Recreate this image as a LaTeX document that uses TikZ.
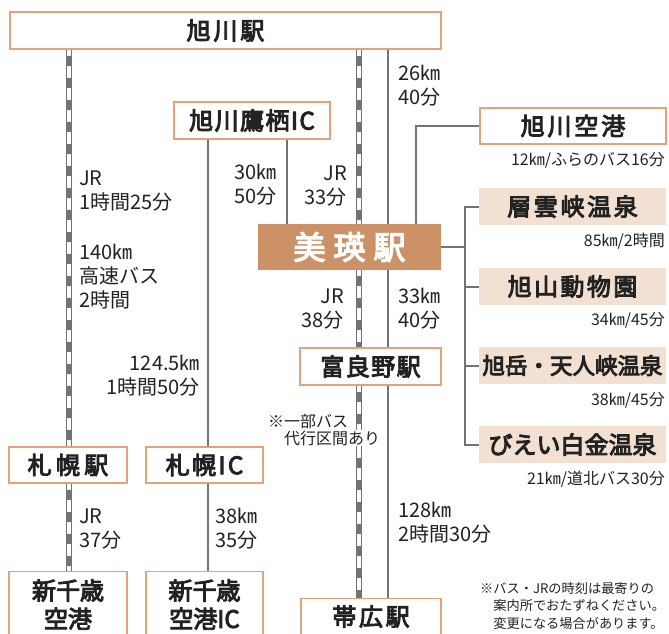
\documentclass[tikz,border=0pt]{standalone}
\usepackage{fontspec}
\setmainfont{Noto Sans CJK JP}
\newfontfamily\titlefont{Noto Sans CJK JP}[FakeBold=4]
\definecolor{boxborder}{HTML}{E2A37A}
\definecolor{pale}{HTML}{F2E0D2}
\definecolor{bieifill}{HTML}{CD9167}
\definecolor{linegray}{HTML}{737373}
\definecolor{ink}{HTML}{222222}
\newcommand\myL[1]{\begin{tabular}[t]{@{}l@{}}#1\end{tabular}}
\newcommand\myR[1]{\begin{tabular}[t]{@{}r@{}}#1\end{tabular}}
\newcommand\myC[1]{\begin{tabular}[t]{@{}c@{}}#1\end{tabular}}
\newcommand\spaced[2]{{\addfontfeature{LetterSpace=#1}#2}}
\begin{document}
\begin{tikzpicture}[x=1pt,y=-1pt,
  box/.style={draw=boxborder, line width=1.2pt, fill=white, inner sep=0pt, text=ink, font=\fontsize{24}{27}\selectfont\titlefont},
  palebox/.style={fill=pale, inner sep=0pt, text=ink, minimum width=187pt, minimum height=37pt, font=\fontsize{24}{27}\selectfont\titlefont},
  lbl/.style={inner sep=0pt, text=ink, font=\fontsize{20}{24}\selectfont},
  captext/.style={inner sep=0pt, text=ink, font=\fontsize{16}{18}\selectfont, anchor=base east},
  road/.style={draw=linegray, line width=2pt},
  rail/.style={draw=linegray, line width=6pt,
    postaction={draw=white, line width=4pt},
    postaction={draw=linegray, line width=4pt, dash pattern=on 10pt off 12pt, dash phase=16pt}}]
\path[use as bounding box, fill=white] (0,0) rectangle (669,633);

% columns
\coordinate (cL) at (68.5,0);
\coordinate (cR1) at (208,0);
\coordinate (cT) at (287,0);
\coordinate (cM) at (358.5,0);
\coordinate (cR2) at (388,0);
\coordinate (cAP) at (416,0);
\coordinate (cTr) at (465,0);

% boxes
\node[box, minimum width=431pt, minimum height=37pt] (asahikawa) at (225.5,30.5) {\spaced{12}{旭川駅}};
\node[box, minimum width=156pt, minimum height=37pt] (takasu) at (252,120.5) {\spaced{6}{旭川鷹栖IC}};
\node[fill=bieifill, text=white, inner sep=0pt, minimum width=183pt, minimum height=46pt, font=\fontsize{32}{36}\selectfont\titlefont] (biei) at (349.5,247) {\spaced{25}{美瑛駅}};
\node[box, minimum width=186pt, minimum height=36pt] (airport) at (573,126) {\spaced{12}{旭川空港}};
\node[palebox] (sounkyo) at (572.5,206.5) {\spaced{11}{層雲峡温泉}};
\node[palebox] (asahiyama) at (572.5,286.5) {\spaced{10}{旭山動物園}};
\node[palebox, font=\fontsize{22.5}{27}\selectfont\titlefont] (asahidake) at (572.5,365.5) {旭岳・天人峡温泉};
\node[palebox] (shirogane) at (572.5,444.5) {びえい白金温泉};
\node[box, minimum width=141pt, minimum height=37pt] (furano) at (370.5,366.5) {\spaced{6}{富良野駅}};
\node[box, minimum width=118pt, minimum height=36pt] (sapporo) at (68,465) {\spaced{18}{札幌駅}};
\node[box, minimum width=117pt, minimum height=36pt] (sapporoic) at (204.5,465) {\spaced{10}{札幌IC}};
\node[box, anchor=north, minimum width=140pt, text height=27pt, text depth=15pt] (obihiro) at (371,598) {\spaced{11}{帯広駅}};
\node[box, anchor=north, minimum width=118pt, text height=28pt, text depth=42pt] (chitose) at (68,571) {\myC{新千歳\\空港}};
\node[box, anchor=north, minimum width=117pt, text height=28pt, text depth=42pt] (chitoseic) at (204.5,571) {\myC{新千歳\\空港IC}};

% connectors
\draw[rail] (cL |- asahikawa.south) -- (cL |- sapporo.north);
\draw[rail] (cL |- sapporo.south) -- (cL |- chitose.north);
\draw[road] (cR1 |- takasu.south) -- (cR1 |- sapporoic.north);
\draw[road] (cR1 |- sapporoic.south) -- (cR1 |- chitoseic.north);
\draw[road] (cT |- takasu.south) -- (cT |- biei.north);
\draw[rail] (cM |- asahikawa.south) -- (cM |- biei.north);
\draw[rail] (cM |- biei.south) -- (cM |- furano.north);
\draw[rail] (cM |- furano.south) -- (cM |- obihiro.north);
\draw[road] (cR2 |- asahikawa.south) -- (cR2 |- biei.north);
\draw[road] (cR2 |- biei.south) -- (cR2 |- furano.north);
\draw[road] (cR2 |- furano.south) -- (cR2 |- obihiro.north);
\draw[road] (cAP |- biei.north) |- (airport.west);
\draw[road] (biei.east) -- (cTr |- biei.east);
\draw[road] (sounkyo.west) -| (cTr |- shirogane.west) -- (shirogane.west);
\draw[road] (cTr |- asahiyama.west) -- (asahiyama.west);
\draw[road] (cTr |- asahidake.west) -- (asahidake.west);

% labels
\node[lbl, anchor=base west] (l1) at (398,80.5) {\myL{26㎞\\40分}};
\node[lbl, anchor=base west] (l2) at (79,185.5) {\myL{JR\\1時間25分}};
\node[lbl, anchor=base west] (l3) at (79,259.5) {\myL{140㎞\\高速バス\\2時間}};
\node[lbl, anchor=base east] (l4) at (277,179.5) {\myR{30㎞\\50分}};
\node[lbl, anchor=base east] (l5) at (347,180.5) {\myR{JR\\33分}};
\node[lbl, anchor=base east] (l6) at (344,303.5) {\myR{JR\\38分}};
\node[lbl, anchor=base west] (l7) at (398,303.5) {\myL{33㎞\\40分}};
\node[lbl, anchor=base east] (l8) at (200,370.5) {\myR{124.5㎞\\1時間50分}};
\node[lbl, anchor=base west] (l9) at (79,523.5) {\myL{JR\\37分}};
\node[lbl, anchor=base west] (l10) at (215,523.5) {\myL{38㎞\\35分}};
\node[lbl, anchor=base west] (l11) at (398,517.5) {\myL{128㎞\\2時間30分}};

% captions
\node[captext] (c1) at (665,165) {12㎞/ふらのバス16分};
\node[captext] (c2) at (665,246) {85㎞/2時間};
\node[captext] (c3) at (665,325) {34㎞/45分};
\node[captext] (c4) at (665,405) {38㎞/45分};
\node[captext] (c5) at (665,484) {21㎞/道北バス30分};

% notes
\node[inner sep=0pt, text=ink, font=\fontsize{16}{17}\selectfont, anchor=base west] (n1) at (268,427) {※一部バス};
\node[inner sep=1pt, fill=white, text=ink, font=\fontsize{16}{17}\selectfont, anchor=base west] (n2) at (283,444) {代行区間あり};
\node[inner sep=0pt, text=ink, font=\fontsize{13.2}{17.5}\selectfont, anchor=base west] (fn) at (480,593) {\myL{※バス・JRの時刻は最寄りの\\\hspace{1em}案内所でおたずねください。\\\hspace{1em}変更になる場合があります。}};
\end{tikzpicture}
\end{document}
